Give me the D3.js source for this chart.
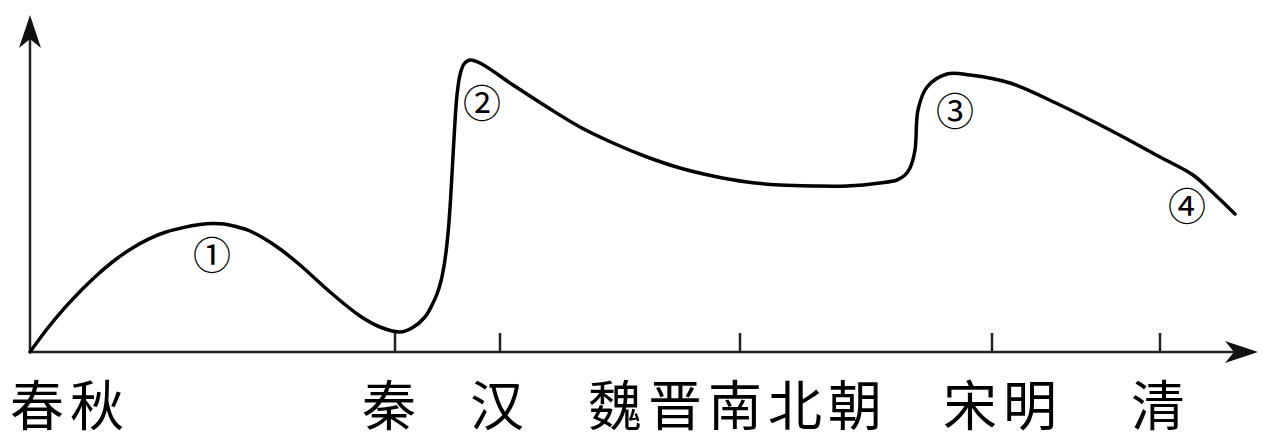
<!DOCTYPE html>
<html><head><meta charset="utf-8">
<script src="https://cdn.jsdelivr.net/npm/d3@7"></script>
<style>html,body{margin:0;padding:0;background:#fff;}svg{display:block;}</style>
</head><body>
<svg id="c" width="1264" height="441"></svg>
<script>
// ---- data (abstract units) ----
const curveX = [0,8.5,17,25.5,34,42.5,51,59.5,68,76.5,85,91,97,103,110,117.5,125,135,150,165,175,185,191,197.5,201,203.5,205.5,207,208.25,209.25,210.25,211.25,212.25,213.5,215,217,220,225,241.5,258.5,275,291.5,308.5,325,341.5,358.5,375,391.5,408.5,425,433.5,437.5,440,442.5,444,448.5,458.5,470,490,515,540,565,581.5,590,602.5];
const curveY = [0,11.5,21.7,30.8,38.9,46,51.9,56.6,60,62.2,63.7,64.25,64,62.75,60.5,56.5,51.5,43.5,30,18,12.5,10,12,17.5,23.5,29,35.5,43,52,62,76,93.5,111,128.5,138.5,144,146,144.5,133.5,122.5,112.5,104.5,97.5,92,88,85,83.5,83,83,84.5,86,88.5,92,101,121,132.5,139,138.5,134.5,123.5,111,97.5,88.5,81,69];
const categories = ["春秋","秦","汉","魏晋南北朝","宋明","清"];
const categoryX = [20,181,235,354,486.5,565.5];
const tickX = [182.5,235,355,481,565];
const markerLabels = ["①","②","③","④"];
const markerX = [91,226,462.5,578.5];
const markerY = [50,126,122,74.5];

const svg = d3.select("#c");
const x = d3.scaleLinear().domain([0,614]).range([30,1258]);
const y = d3.scaleLinear().domain([0,168.5]).range([352,15]);
const x0 = x(0), y0 = y(0), xEnd = x(614), yEnd = y(168.5);
const axisColor = "#222";

// axes lines
svg.append("line").attr("x1",x0).attr("y1",y0).attr("x2",xEnd-14).attr("y2",y0)
  .attr("stroke",axisColor).attr("stroke-width",2.5);
svg.append("line").attr("x1",x0).attr("y1",y0).attr("x2",x0).attr("y2",yEnd+14)
  .attr("stroke",axisColor).attr("stroke-width",2.5);
// arrowheads
svg.append("path").attr("d",`M${xEnd},${y0} L${xEnd-33},${y0-11} L${xEnd-24},${y0} L${xEnd-33},${y0+11} Z`).attr("fill","#111");
svg.append("path").attr("d",`M${x0},${yEnd} L${x0-11},${yEnd+33} L${x0},${yEnd+24} L${x0+11},${yEnd+33} Z`).attr("fill","#111");

// ticks
svg.selectAll("line.tick").data(tickX).enter().append("line").attr("class","tick")
  .attr("x1",d=>x(d)).attr("x2",d=>x(d)).attr("y1",y0).attr("y2",y0-19)
  .attr("stroke",axisColor).attr("stroke-width",2.5);

// curve
const pts = curveX.map((d,i)=>[d,curveY[i]]);
svg.append("path").datum(pts)
  .attr("d", d3.line().x(d=>x(d[0])).y(d=>y(d[1])).curve(d3.curveCatmullRom.alpha(0.5)))
  .attr("fill","none").attr("stroke","#000").attr("stroke-width",3.5)
  .attr("stroke-linejoin","round").attr("stroke-linecap","round");

// category labels
svg.selectAll("text.cat").data(categories).enter().append("text").attr("class","cat")
  .attr("x",(d,i)=>x(categoryX[i])).attr("y",402)
  .attr("text-anchor","middle").attr("dominant-baseline","central")
  .attr("font-family","'Noto Sans CJK SC'").attr("font-size",54).attr("letter-spacing",6)
  .attr("fill","#000").text(d=>d);

// markers
svg.selectAll("text.mk").data(markerLabels).enter().append("text").attr("class","mk")
  .attr("x",(d,i)=>x(markerX[i])).attr("y",(d,i)=>y(markerY[i]))
  .attr("text-anchor","middle").attr("dominant-baseline","central")
  .attr("font-family","'Noto Sans CJK SC'").attr("font-size",38)
  .attr("fill","#000").text(d=>d);
</script>
</body></html>
